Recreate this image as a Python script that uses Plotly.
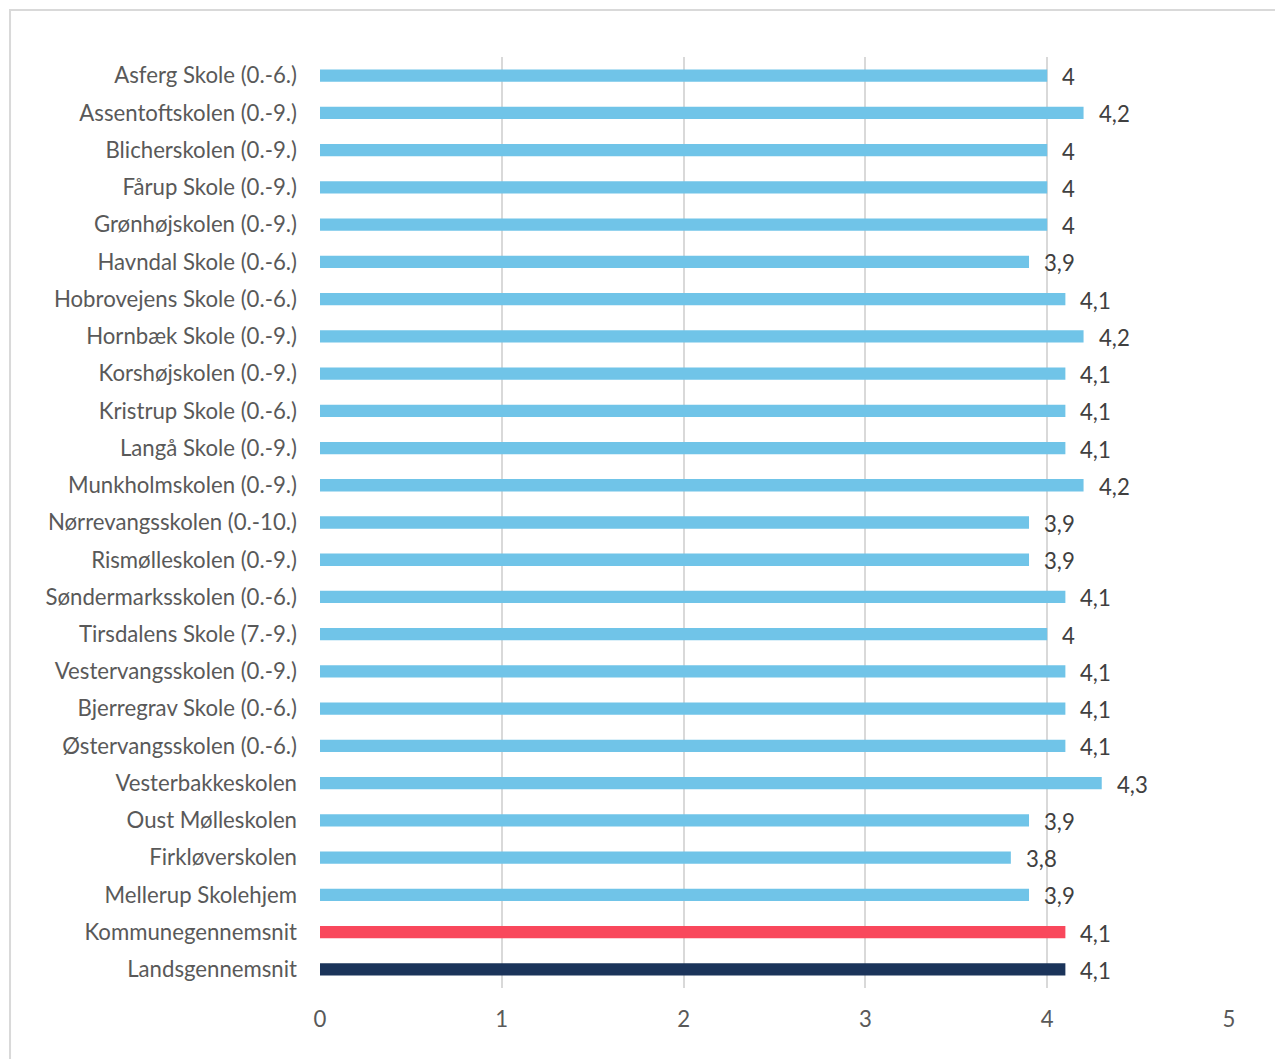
import plotly.graph_objects as go

categories = [
    "Asferg Skole (0.-6.)", "Assentoftskolen (0.-9.)", "Blicherskolen (0.-9.)",
    "Fårup Skole (0.-9.)", "Grønhøjskolen (0.-9.)", "Havndal Skole (0.-6.)",
    "Hobrovejens Skole (0.-6.)", "Hornbæk Skole (0.-9.)", "Korshøjskolen (0.-9.)",
    "Kristrup Skole (0.-6.)", "Langå Skole (0.-9.)", "Munkholmskolen (0.-9.)",
    "Nørrevangsskolen (0.-10.)", "Rismølleskolen (0.-9.)", "Søndermarksskolen (0.-6.)",
    "Tirsdalens Skole (7.-9.)", "Vestervangsskolen (0.-9.)", "Bjerregrav Skole (0.-6.)",
    "Østervangsskolen (0.-6.)", "Vesterbakkeskolen", "Oust Mølleskolen",
    "Firkløverskolen", "Mellerup Skolehjem", "Kommunegennemsnit", "Landsgennemsnit",
]
values = [4.0, 4.2, 4.0, 4.0, 4.0, 3.9, 4.1, 4.2, 4.1, 4.1, 4.1, 4.2, 3.9, 3.9,
          4.1, 4.0, 4.1, 4.1, 4.1, 4.3, 3.9, 3.8, 3.9, 4.1, 4.1]
x_ticks = [0, 1, 2, 3, 4, 5]

colors = ["#70c4e8"] * (len(categories) - 2) + ["#f9485c", "#1b345a"]

def fmt(v):
    s = ("%g" % v)
    return s.replace(".", ",")

FS = 22.2

fig = go.Figure()
fig.add_trace(go.Bar(
    x=values, y=categories, orientation="h",
    marker=dict(color=colors, line=dict(width=0)),
    width=0.33, hoverinfo="skip",
))

for c, v in zip(categories, values):
    fig.add_annotation(x=v, y=c, text=fmt(v), showarrow=False,
                       xanchor="left", yanchor="middle", xshift=13, yshift=-1,
                       font=dict(family="Lato", size=FS, color="#404040"))

fig.add_shape(type="rect", xref="paper", yref="paper",
              x0=-0.341, y0=-0.2, x1=1.2, y1=1.0505,
              line=dict(color="#d9d9d9", width=2), fillcolor="rgba(0,0,0,0)",
              layer="below")

fig.update_layout(
    width=1275, height=1051,
    margin=dict(l=312, r=54, t=49, b=71),
    paper_bgcolor="white", plot_bgcolor="white",
    showlegend=False,
    font=dict(family="Lato", size=FS, color="#595959"),
    xaxis=dict(range=[0, 5], tickvals=x_ticks, showgrid=True, gridcolor="#d9d9d9",
               gridwidth=2, zeroline=False, showline=False, ticks="",
               ticklabelstandoff=16, tickfont=dict(size=FS, color="#595959"),
               fixedrange=True),
    yaxis=dict(autorange="reversed", showgrid=False, zeroline=False, showline=False,
               ticks="", ticklabelstandoff=22, tickfont=dict(size=FS, color="#595959"),
               fixedrange=True),
)

fig.write_html("out.html")
